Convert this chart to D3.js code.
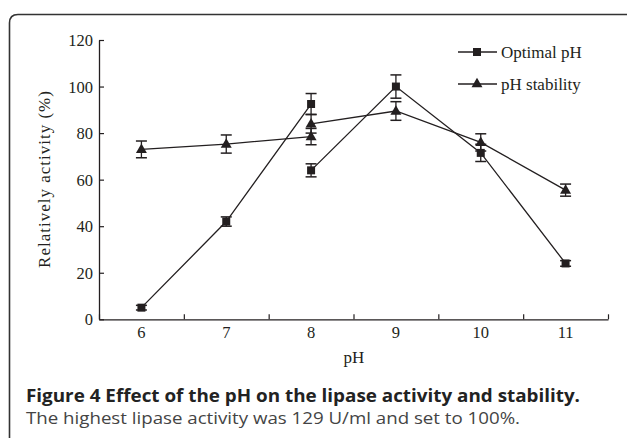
<!DOCTYPE html>
<html>
<head>
<meta charset="utf-8">
<script src="https://cdn.jsdelivr.net/npm/d3@7/dist/d3.min.js"></script>
<style>
  html, body { margin: 0; padding: 0; background: #fff; }
  svg { display: block; }
</style>
</head>
<body>
<svg id="chart" width="627" height="438"></svg>
<script>
// ---- data ----
const phCategories = [6, 7, 8, 9, 10, 11];
const yTicks = [0, 20, 40, 60, 80, 100, 120];

// Optimal pH (two buffer segments, both include pH 8)
const optimalA_pH = [6, 7, 8];
const optimalA_val = [5, 42, 92.5];
const optimalA_err = [1, 2, 4.5];
const optimalB_pH = [8, 9, 10, 11];
const optimalB_val = [64, 100, 71.5, 24];
const optimalB_err = [2.8, 5, 3.7, 1.2];

// pH stability
const stabilityA_pH = [6, 7, 8];
const stabilityA_val = [73, 75.3, 78.5];
const stabilityA_err = [3.6, 3.9, 3.5];
const stabilityB_pH = [8, 9, 10, 11];
const stabilityB_val = [84, 89.5, 76, 55.5];
const stabilityB_err = [4, 4, 3.7, 2.6];

const legendLabels = ["Optimal pH", "pH stability"];
const yLabel = "Relatively activity (%)";
const xLabel = "pH";
const captionTitle = "Figure 4 Effect of the pH on the lipase activity and stability.";
const captionText = "The highest lipase activity was 129 U/ml and set to 100%.";

// ---- drawing ----
const svg = d3.select("#chart");
const ink = "#231f20";
const serif = "'Liberation Serif', 'DejaVu Serif', serif";

// frame (rounded box)
svg.append("path")
  .attr("d", "M9.5,440 L9.5,23 Q9.5,14.5 18,14.5 L640,14.5")
  .attr("fill", "none").attr("stroke", "#333").attr("stroke-width", 1.6);

const x = d3.scaleLinear().domain([5.5, 11.5]).range([99, 608]);
const y = d3.scaleLinear().domain([0, 120]).range([319.3, 40]);

// axes
const xAxis = d3.axisBottom(x)
  .tickValues(d3.range(5.5, 11.6, 1))
  .tickSizeInner(-5).tickSizeOuter(0).tickFormat("");
const gx = svg.append("g").attr("transform", `translate(0,${y(0)})`).call(xAxis);
gx.select(".domain").attr("stroke", ink).attr("stroke-width", 1.3);
gx.selectAll(".tick line").attr("stroke", ink).attr("stroke-width", 1.2);

// category labels under x axis
svg.append("g").selectAll("text").data(phCategories).join("text")
  .attr("x", d => x(d)).attr("y", 338)
  .attr("text-anchor", "middle")
  .attr("font-family", serif).attr("font-size", 16.5).attr("fill", ink)
  .text(d => d);

const yAxis = d3.axisLeft(y).tickValues(yTicks)
  .tickSizeInner(-5).tickSizeOuter(0).tickPadding(6);
const gy = svg.append("g").attr("transform", `translate(${x(5.5)},0)`).call(yAxis);
gy.select(".domain").attr("stroke", ink).attr("stroke-width", 1.3);
gy.selectAll(".tick line").attr("stroke", ink).attr("stroke-width", 1.2);
gy.selectAll(".tick text")
  .attr("font-family", serif).attr("font-size", 16.5).attr("fill", ink)
  .attr("x", -6).attr("dy", "0.34em");

// axis titles
svg.append("text")
  .attr("transform", `translate(50,179) rotate(-90)`)
  .attr("text-anchor", "middle")
  .attr("font-family", serif).attr("font-size", 17).attr("letter-spacing", 1)
  .attr("fill", ink).text(yLabel);
svg.append("text")
  .attr("x", 354).attr("y", 363).attr("text-anchor", "middle")
  .attr("font-family", serif).attr("font-size", 17).attr("fill", ink)
  .text(xLabel);

// helpers
function zip(ph, val, err) { return ph.map((p, i) => ({ p, v: val[i], e: err[i] })); }
const line = d3.line().x(d => x(d.p)).y(d => y(d.v));

const segments = [
  { data: zip(optimalA_pH, optimalA_val, optimalA_err), shape: "square" },
  { data: zip(optimalB_pH, optimalB_val, optimalB_err), shape: "square" },
  { data: zip(stabilityA_pH, stabilityA_val, stabilityA_err), shape: "triangle" },
  { data: zip(stabilityB_pH, stabilityB_val, stabilityB_err), shape: "triangle" }
];

const gLines = svg.append("g");
const gErr = svg.append("g");
const gMarks = svg.append("g");

const sqSym = d3.symbol().type(d3.symbolSquare).size(64);
const triSym = d3.symbol().type(d3.symbolTriangle).size(52);

segments.forEach(seg => {
  gLines.append("path").datum(seg.data)
    .attr("d", line).attr("fill", "none")
    .attr("stroke", ink).attr("stroke-width", 1.3);

  const eb = gErr.selectAll(null).data(seg.data).join("g");
  eb.append("line")
    .attr("x1", d => x(d.p)).attr("x2", d => x(d.p))
    .attr("y1", d => y(d.v - d.e)).attr("y2", d => y(d.v + d.e))
    .attr("stroke", ink).attr("stroke-width", 1.3);
  [-1, 1].forEach(s => {
    eb.append("line")
      .attr("x1", d => x(d.p) - 5.5).attr("x2", d => x(d.p) + 5.5)
      .attr("y1", d => y(d.v + s * d.e)).attr("y2", d => y(d.v + s * d.e))
      .attr("stroke", ink).attr("stroke-width", 1.5);
  });

  gMarks.selectAll(null).data(seg.data).join("path")
    .attr("transform", d => `translate(${x(d.p)},${y(d.v) + (seg.shape === "triangle" ? 0.5 : 0)})`)
    .attr("d", seg.shape === "square" ? sqSym : triSym)
    .attr("fill", ink);
});

// legend
const legend = svg.append("g");
const legendRows = [
  { label: legendLabels[0], sym: sqSym, ly: 52 },
  { label: legendLabels[1], sym: triSym, ly: 84 }
];
legendRows.forEach(r => {
  legend.append("line").attr("x1", 458).attr("x2", 497)
    .attr("y1", r.ly).attr("y2", r.ly)
    .attr("stroke", ink).attr("stroke-width", 1.3);
  legend.append("path").attr("transform", `translate(477,${r.ly})`)
    .attr("d", r.sym).attr("fill", ink);
  legend.append("text").attr("x", 501).attr("y", r.ly + 5.5)
    .attr("font-family", serif).attr("font-size", 17).attr("fill", ink)
    .text(r.label);
});

// caption (reference text is horizontally wide; stretch to measured widths)
svg.append("text").attr("x", 26).attr("y", 402)
  .attr("font-family", "'Open Sans', 'Noto Sans', sans-serif")
  .attr("font-weight", 700).attr("font-size", 17.5).attr("fill", "#222")
  .attr("textLength", 554).attr("lengthAdjust", "spacingAndGlyphs")
  .text(captionTitle);
svg.append("text").attr("x", 26).attr("y", 423.5)
  .attr("font-family", "'Open Sans', 'Noto Sans', sans-serif")
  .attr("font-size", 16).attr("fill", "#444")
  .attr("textLength", 494).attr("lengthAdjust", "spacingAndGlyphs")
  .text(captionText);
</script>
</body>
</html>
